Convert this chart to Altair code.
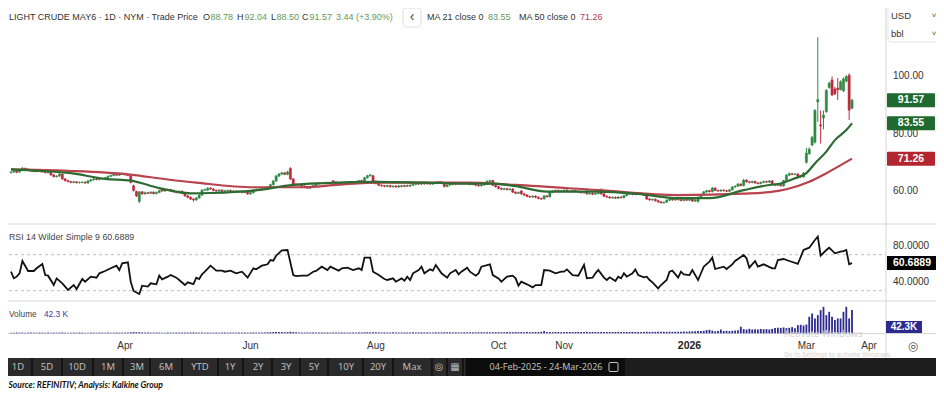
import altair as alt
import pandas as pd

# ---------------- data ----------------
START, END = "2025-02-04", "2026-03-24"
DATES = pd.bdate_range(START, END)

OPEN = [
 66.4, 66.6, 66.9, 66.6, 67.2, 67.9, 67.6, 67.3, 67.0, 66.8,
 67.1, 67.0, 66.7, 66.4, 66.5, 65.6, 65.0, 65.2, 65.9, 64.2,
 63.6, 63.3, 63.0, 63.2, 62.9, 63.0, 63.1, 62.8, 63.5, 63.9,
 64.2, 64.0, 64.4, 64.3, 64.6, 65.1, 65.4, 65.8, 65.5, 65.9,
 66.1, 65.7, 65.2, 61.8, 59.8, 56.4, 59.7, 59.0, 59.4, 59.2,
 59.6, 59.1, 59.5, 60.6, 60.0, 60.3, 60.5, 60.2, 59.8, 59.5,
 59.9, 59.2, 58.3, 57.8, 57.2, 56.9, 57.6, 58.6, 60.3, 60.3,
 61.0, 60.7, 60.2, 60.0, 60.3, 59.9, 60.1, 60.2, 59.8, 60.0,
 59.7, 59.9, 59.5, 59.8, 59.0, 59.4, 60.4, 60.6, 60.5, 60.8,
 60.6, 61.3, 62.2, 63.5, 65.2, 65.9, 66.3, 65.8, 67.8, 64.2,
 62.4, 62.0, 62.3, 61.7, 61.3, 61.0, 61.4, 61.9, 62.5, 62.7,
 62.6, 62.9, 62.7, 63.5, 63.1, 62.6, 62.8, 62.5, 62.7, 62.9,
 62.6, 62.8, 63.2, 63.6, 63.4, 64.6, 65.3, 65.3, 63.4, 62.6,
 62.0, 61.8, 61.6, 61.9, 61.5, 61.7, 61.4, 61.8, 61.6, 61.9,
 61.7, 62.0, 62.3, 62.6, 62.4, 62.8, 62.5, 62.7, 62.4, 62.6,
 63.0, 63.2, 62.8, 61.6, 62.1, 62.5, 62.3, 62.6, 62.4, 62.7,
 62.5, 62.6, 62.3, 62.4, 62.0, 61.8, 62.1, 62.4, 63.4, 63.6,
 62.0, 61.5, 60.9, 60.6, 60.8, 60.5, 60.7, 59.6, 59.2, 60.0,
 59.0, 58.6, 58.1, 57.9, 58.2, 57.8, 57.4, 57.3, 58.3, 58.0,
 59.6, 60.0, 60.2, 59.9, 60.1, 60.3, 60.0, 59.8, 60.2, 59.9,
 59.6, 59.4, 60.0, 59.0, 59.2, 58.9, 59.1, 60.4, 59.0, 58.2,
 57.9, 57.6, 57.8, 57.5, 57.9, 57.7, 58.4, 58.9, 59.1, 58.8,
 59.0, 59.2, 58.9, 58.5, 57.2, 56.9, 57.1, 56.6, 56.2, 55.9,
 56.1, 56.8, 57.2, 56.9, 57.3, 57.0, 56.7, 57.1, 56.8, 57.2,
 56.5, 56.4, 57.8, 58.6, 59.7, 60.1, 59.8, 61.0, 60.2, 60.0,
 60.3, 60.1, 59.9, 60.4, 61.4, 61.7, 62.4, 61.9, 63.8, 63.2,
 63.0, 63.3, 62.8, 62.6, 63.0, 63.3, 63.1, 63.5, 62.3, 62.0,
 62.2, 61.8, 63.6, 65.5, 66.0, 65.8, 65.9, 65.2, 64.9, 70.0,
 73.0, 76.0, 77.0, 91.0, 83.0, 85.4, 87.6, 96.0, 98.6, 95.5,
 95.8, 95.3, 94.8, 98.2, 100.2, 88.78,
]
HIGH = [
 66.9, 67.2, 67.1, 67.5, 68.3, 68.1, 67.9, 67.5, 67.3, 67.4,
 67.4, 67.3, 66.9, 66.8, 66.7, 65.9, 65.5, 66.2, 66.1, 64.5,
 63.9, 63.5, 63.5, 63.4, 63.3, 63.4, 63.3, 63.8, 64.2, 64.5,
 64.5, 64.7, 64.6, 64.9, 65.4, 65.7, 66.1, 66.0, 66.2, 66.4,
 66.3, 66.0, 65.5, 62.2, 60.1, 60.0, 60.0, 59.8, 59.7, 59.9,
 59.9, 59.8, 60.4, 60.9, 60.6, 60.8, 60.8, 60.5, 60.1, 60.2,
 60.2, 59.5, 58.6, 58.1, 57.5, 57.9, 58.9, 60.6, 60.8, 61.3,
 61.3, 61.0, 60.5, 60.6, 60.6, 60.4, 60.5, 60.5, 60.3, 60.3,
 60.2, 60.2, 60.1, 60.1, 59.7, 60.7, 60.9, 60.9, 61.1, 61.1,
 61.6, 62.5, 63.8, 65.6, 66.3, 66.7, 66.6, 67.0, 68.3, 64.5,
 62.7, 62.6, 62.6, 62.0, 61.6, 61.7, 62.2, 62.8, 63.0, 63.0,
 63.2, 63.2, 63.1, 63.8, 63.4, 63.1, 63.1, 63.0, 63.2, 63.2,
 63.1, 63.5, 63.9, 63.9, 64.9, 65.6, 65.9, 65.6, 63.7, 62.9,
 62.3, 62.1, 62.2, 62.2, 62.0, 62.0, 62.1, 62.1, 62.2, 62.2,
 62.3, 62.6, 62.9, 62.9, 63.1, 63.1, 63.0, 63.0, 62.9, 63.3,
 63.5, 63.5, 63.1, 62.4, 62.8, 62.8, 62.9, 62.9, 63.0, 63.0,
 62.9, 62.9, 62.7, 62.7, 62.3, 62.4, 62.7, 63.7, 63.9, 63.9,
 62.3, 61.8, 61.2, 61.1, 61.1, 61.0, 61.0, 59.9, 59.8, 60.3,
 59.3, 58.9, 58.4, 58.5, 58.5, 58.1, 57.7, 58.6, 58.6, 59.9,
 60.3, 60.5, 60.5, 60.4, 60.6, 60.6, 60.3, 60.5, 60.5, 60.2,
 59.9, 60.0, 60.3, 59.5, 59.5, 59.4, 59.7, 60.9, 59.3, 58.5,
 58.2, 58.1, 58.1, 58.2, 58.2, 58.7, 59.2, 59.4, 59.4, 59.3,
 59.5, 59.5, 59.2, 58.8, 57.5, 57.4, 57.4, 56.9, 56.5, 56.4,
 57.1, 57.5, 57.5, 57.6, 57.6, 57.3, 57.4, 57.4, 57.5, 57.5,
 57.2, 58.1, 58.9, 60.0, 60.4, 60.4, 61.4, 61.3, 60.5, 60.6,
 60.6, 60.4, 60.7, 61.7, 62.0, 62.8, 62.7, 64.2, 64.1, 63.5,
 63.6, 63.6, 63.1, 63.3, 63.6, 63.6, 63.8, 63.8, 62.6, 62.5,
 62.5, 63.9, 65.9, 66.4, 66.3, 66.2, 66.2, 65.5, 66.6, 75.0,
 75.2, 79.2, 88.5, 113.5, 88.0, 88.0, 95.4, 98.0, 99.8, 96.2,
 99.3, 98.5, 99.5, 100.3, 101.0, 92.04,
]
LOW = [
 66.1, 66.3, 66.2, 66.3, 66.9, 67.3, 67.0, 66.7, 66.5, 66.5,
 66.7, 66.4, 66.1, 66.1, 65.3, 64.7, 64.7, 64.9, 63.9, 63.3,
 63.0, 62.7, 62.7, 62.6, 62.6, 62.7, 62.5, 62.5, 63.2, 63.6,
 63.7, 63.7, 64.0, 64.0, 64.3, 64.8, 65.1, 65.2, 65.2, 65.6,
 65.4, 65.1, 62.6, 59.8, 57.9, 55.8, 58.7, 58.7, 58.9, 58.9,
 58.8, 58.8, 59.2, 59.7, 59.7, 60.0, 59.9, 59.5, 59.2, 59.2,
 58.9, 58.0, 57.5, 56.9, 56.3, 56.6, 57.3, 58.3, 60.0, 60.0,
 60.4, 59.9, 59.7, 59.7, 59.6, 59.6, 59.8, 59.5, 59.5, 59.4,
 59.4, 59.2, 59.2, 58.7, 58.7, 59.1, 60.1, 60.2, 60.2, 60.3,
 60.3, 61.0, 61.9, 63.2, 64.9, 65.6, 65.5, 65.5, 63.8, 62.0,
 61.7, 61.7, 61.4, 61.0, 60.7, 60.7, 61.1, 61.6, 62.2, 62.3,
 62.3, 62.4, 62.4, 62.8, 62.3, 62.3, 62.2, 62.2, 62.4, 62.3,
 62.3, 62.5, 62.9, 63.1, 63.1, 64.3, 65.0, 63.0, 62.3, 61.7,
 61.5, 61.3, 61.3, 61.2, 61.2, 61.1, 61.1, 61.3, 61.3, 61.4,
 61.4, 61.7, 62.0, 62.1, 62.1, 62.2, 62.2, 62.1, 62.1, 62.3,
 62.7, 62.6, 61.2, 61.3, 61.8, 62.0, 62.0, 62.1, 62.1, 62.2,
 62.2, 62.0, 62.0, 61.7, 61.5, 61.5, 61.8, 62.1, 63.1, 61.7,
 61.2, 60.6, 60.3, 60.3, 60.2, 60.2, 59.3, 58.9, 58.9, 58.7,
 58.3, 57.8, 57.6, 57.6, 57.5, 57.1, 56.9, 57.0, 57.7, 57.7,
 59.3, 59.7, 59.6, 59.6, 59.8, 59.7, 59.5, 59.5, 59.6, 59.3,
 59.1, 59.1, 58.7, 58.7, 58.6, 58.6, 58.8, 58.7, 57.9, 57.6,
 57.3, 57.3, 57.2, 57.2, 57.4, 57.4, 58.1, 58.6, 58.5, 58.5,
 58.7, 58.6, 58.2, 56.9, 56.6, 56.6, 56.3, 55.9, 55.6, 55.6,
 55.8, 56.5, 56.6, 56.6, 56.7, 56.4, 56.4, 56.5, 56.5, 56.2,
 56.2, 56.0, 57.5, 58.3, 59.4, 59.5, 59.5, 59.9, 59.7, 59.7,
 59.8, 59.6, 59.6, 60.1, 61.1, 61.4, 61.6, 61.6, 62.9, 62.7,
 62.7, 62.5, 62.3, 62.3, 62.7, 62.8, 62.8, 62.0, 61.7, 61.7,
 61.5, 61.5, 63.3, 65.2, 65.5, 65.5, 64.9, 64.6, 64.6, 69.5,
 72.6, 75.6, 76.5, 84.0, 76.5, 81.5, 87.2, 95.6, 93.0, 93.4,
 91.7, 95.0, 94.4, 97.8, 84.7, 88.50,
]
CLOSE = [
 66.6, 66.9, 66.5, 67.2, 67.9, 67.6, 67.3, 67.0, 66.8, 67.1,
 67.0, 66.7, 66.4, 66.5, 65.6, 65.0, 65.2, 65.9, 64.2, 63.6,
 63.3, 63.0, 63.2, 62.9, 63.0, 63.1, 62.8, 63.5, 63.9, 64.2,
 64.0, 64.4, 64.3, 64.6, 65.1, 65.4, 65.8, 65.5, 65.9, 66.1,
 65.7, 65.4, 63.0, 60.2, 58.3, 59.7, 59.0, 59.4, 59.2, 59.6,
 59.1, 59.5, 60.1, 60.0, 60.3, 60.5, 60.2, 59.8, 59.5, 59.9,
 59.2, 58.3, 57.8, 57.2, 56.9, 57.6, 58.6, 60.3, 60.5, 61.0,
 60.7, 60.2, 60.0, 60.3, 59.9, 60.1, 60.2, 59.8, 60.0, 59.7,
 59.9, 59.5, 59.8, 59.0, 59.4, 60.4, 60.6, 60.5, 60.8, 60.6,
 61.3, 62.2, 63.5, 65.2, 65.9, 66.3, 65.8, 66.6, 64.2, 62.4,
 62.0, 62.3, 61.7, 61.3, 61.0, 61.4, 61.9, 62.5, 62.7, 62.6,
 62.9, 62.7, 62.8, 63.1, 62.6, 62.8, 62.5, 62.7, 62.9, 62.6,
 62.8, 63.2, 63.6, 63.4, 64.6, 65.3, 65.6, 63.4, 62.6, 62.0,
 61.8, 61.6, 61.9, 61.5, 61.7, 61.4, 61.8, 61.6, 61.9, 61.7,
 62.0, 62.3, 62.6, 62.4, 62.8, 62.5, 62.7, 62.4, 62.6, 63.0,
 63.2, 62.9, 61.6, 62.1, 62.5, 62.3, 62.6, 62.4, 62.7, 62.5,
 62.6, 62.3, 62.4, 62.0, 61.8, 62.1, 62.4, 63.4, 63.6, 62.0,
 61.5, 60.9, 60.6, 60.8, 60.5, 60.7, 59.6, 59.2, 59.5, 59.0,
 58.6, 58.1, 57.9, 58.2, 57.8, 57.4, 57.2, 58.3, 58.0, 59.6,
 60.0, 60.2, 59.9, 60.1, 60.3, 60.0, 59.8, 60.2, 59.9, 59.6,
 59.4, 59.7, 59.0, 59.2, 58.9, 59.1, 59.4, 59.0, 58.2, 57.9,
 57.6, 57.8, 57.5, 57.9, 57.7, 58.4, 58.9, 59.1, 58.8, 59.0,
 59.2, 58.9, 58.5, 57.2, 56.9, 57.1, 56.6, 56.2, 55.9, 56.1,
 56.8, 57.2, 56.9, 57.3, 57.0, 56.7, 57.1, 56.8, 57.2, 56.5,
 56.9, 57.8, 58.6, 59.7, 60.1, 59.8, 61.0, 60.2, 60.0, 60.3,
 60.1, 59.9, 60.4, 61.4, 61.7, 62.4, 61.9, 63.8, 63.2, 63.0,
 63.3, 62.8, 62.6, 63.0, 63.3, 63.1, 63.5, 62.3, 62.0, 62.2,
 61.8, 63.6, 65.5, 66.0, 65.8, 65.9, 65.2, 64.9, 66.2, 73.2,
 74.5, 78.6, 88.0, 91.8, 82.6, 86.4, 95.0, 97.5, 93.4, 93.8,
 95.2, 98.0, 99.0, 99.8, 88.13, 91.57,
]
VOLUME_K = [
 1.2, 1.0, 1.4, 1.1, 1.3, 0.9, 1.2, 1.5, 1.1, 1.0,
 1.3, 1.2, 0.9, 1.4, 1.1, 1.2, 1.0, 1.3, 1.5, 1.1,
 1.2, 1.0, 1.3, 1.1, 1.4, 1.2, 0.9, 1.1, 1.3, 1.2,
 1.0, 1.4, 1.2, 1.1, 1.3, 1.0, 1.2, 1.4, 1.1, 1.3,
 1.5, 1.4, 1.8, 2.2, 2.0, 1.9, 1.6, 1.4, 1.5, 1.3,
 1.2, 1.4, 1.3, 1.1, 1.2, 1.5, 1.3, 1.2, 1.4, 1.3,
 1.5, 1.6, 1.4, 1.5, 1.7, 1.4, 1.3, 1.5, 1.2, 1.4,
 1.3, 1.2, 1.4, 1.1, 1.3, 1.5, 1.2, 1.4, 1.3, 1.2,
 1.4, 1.3, 1.5, 1.2, 1.4, 1.6, 1.3, 1.5, 1.4, 1.6,
 1.8, 2.0, 2.3, 2.6, 2.4, 2.2, 2.0, 2.1, 2.8, 2.2,
 1.8, 1.6, 1.5, 1.4, 1.6, 1.5, 1.7, 1.4, 1.5, 1.6,
 1.4, 1.5, 1.3, 1.6, 1.5, 1.4, 1.6, 1.5, 1.3, 1.4,
 1.5, 1.6, 1.7, 1.5, 1.8, 1.9, 1.7, 2.0, 1.8, 1.6,
 1.5, 1.6, 1.4, 1.5, 1.7, 1.6, 1.5, 1.4, 1.6, 1.5,
 1.6, 1.7, 1.5, 1.6, 1.8, 1.6, 1.7, 1.5, 1.6, 1.8,
 1.7, 1.6, 1.9, 1.8, 1.7, 1.6, 1.8, 1.7, 1.6, 1.8,
 1.7, 1.9, 1.8, 1.7, 1.9, 2.0, 1.8, 2.1, 2.0, 1.9,
 2.0, 2.1, 1.9, 2.0, 2.2, 2.0, 2.1, 2.3, 2.1, 2.2,
 2.0, 2.3, 2.1, 2.2, 2.4, 2.2, 2.6, 4.2, 2.5, 2.3,
 2.2, 2.4, 2.3, 2.1, 2.5, 2.3, 2.4, 2.2, 2.3, 2.5,
 2.4, 2.2, 2.6, 2.3, 2.5, 2.4, 2.2, 2.6, 2.4, 2.3,
 2.5, 2.3, 2.4, 2.6, 2.2, 2.5, 2.4, 2.3, 2.6, 2.4,
 2.5, 2.3, 2.6, 2.8, 2.5, 2.7, 2.6, 2.9, 2.7, 2.8,
 2.6, 2.9, 2.7, 2.8, 3.0, 2.8, 3.2, 3.0, 3.4, 3.6,
 3.8, 4.2, 4.0, 4.5, 5.8, 6.4, 4.8, 3.6, 4.0, 6.8,
 4.2, 4.5, 4.0, 4.6, 5.0, 5.4, 12.0, 7.5, 6.8, 8.2,
 7.0, 7.4, 6.8, 7.8, 7.2, 7.6, 7.0, 8.0, 9.5, 10.2,
 9.8, 10.6, 9.4, 10.0, 11.2, 9.0, 14.8, 15.5, 14.2, 16.0,
 30.0, 36.0, 27.0, 33.0, 42.0, 48.0, 33.0, 39.0, 30.0, 24.0,
 27.0, 27.0, 39.0, 48.0, 27.0, 42.3,
]
# (trading-day index, value) readings
MA21 = [(0, 67.5), (10, 67.0), (21, 66.2), (33, 64.2), (42, 63.6), (52, 61.0), (63, 59.2),
        (70, 59.3), (85, 60.1), (99, 62.1), (109, 62.7), (129, 63.2), (145, 62.9), (160, 62.6),
        (169, 62.6), (177, 61.7), (188, 59.8), (206, 59.8), (220, 59.0), (234, 57.5), (245, 57.5),
        (257, 60.3), (266, 62.1), (270, 62.6), (275, 64.4), (279, 66.2), (282, 69.6), (286, 73.7),
        (289, 77.7), (293, 81.2), (295, 83.55)]
MA50 = [(0, 67.5), (20, 67.0), (41, 65.8), (55, 64.0), (65, 62.9), (85, 61.3), (102, 61.3),
        (115, 62.2), (129, 62.9), (160, 62.9), (177, 62.1), (206, 60.3), (234, 58.6), (257, 59.1),
        (266, 59.6), (272, 60.6), (280, 63.2), (286, 66.2), (295, 71.26)]
RSI = [(0, 51.1), (1, 43.8), (2, 45.6), (3, 49.3), (4, 63.0), (6, 51.9), (8, 51.9), (9, 54.9),
       (11, 59.7), (12, 47.4), (13, 46.7), (15, 36.3), (16, 43.7), (18, 38.2), (19, 34.5), (20, 30.8),
       (22, 36.3), (23, 31.9), (25, 43.0), (26, 40.0), (28, 45.6), (30, 44.5), (31, 49.3), (33, 51.9),
       (35, 54.9), (37, 57.8), (38, 53.0), (39, 60.4), (41, 61.5), (42, 40.0), (43, 29.7), (45, 26.3),
       (46, 35.6), (48, 34.5), (49, 38.2), (51, 37.1), (52, 46.7), (53, 42.6), (55, 45.6), (56, 47.4),
       (58, 44.5), (59, 41.9), (61, 36.3), (62, 39.3), (64, 37.4), (65, 44.5), (66, 43.0), (67, 48.2),
       (68, 51.1), (70, 57.8), (72, 52.3), (74, 52.3), (75, 51.1), (77, 52.3), (79, 49.3), (81, 51.1),
       (83, 44.5), (85, 54.9), (86, 53.7), (88, 57.8), (90, 59.3), (91, 64.1), (92, 63.4), (93, 68.9),
       (95, 74.9), (97, 75.2), (99, 47.4), (100, 46.3), (102, 46.7), (104, 46.7), (106, 51.1),
       (107, 51.9), (109, 56.7), (111, 53.0), (112, 56.7), (114, 53.7), (115, 52.3), (116, 54.9),
       (118, 55.6), (120, 53.0), (122, 54.9), (123, 53.0), (124, 66.7), (126, 66.7), (127, 51.1),
       (129, 47.4), (131, 43.0), (132, 41.9), (134, 43.7), (135, 40.0), (137, 43.7), (138, 41.1),
       (139, 45.6), (140, 41.9), (141, 49.3), (143, 53.0), (144, 56.7), (145, 49.3), (147, 53.7),
       (148, 52.3), (149, 58.6), (151, 49.3), (153, 44.5), (154, 49.3), (156, 53.0), (157, 48.2),
       (158, 51.1), (160, 55.6), (161, 51.1), (163, 46.7), (164, 49.3), (165, 56.7), (168, 59.3),
       (169, 47.4), (171, 43.7), (172, 40.0), (174, 45.6), (176, 46.7), (177, 43.7), (178, 35.6),
       (179, 40.0), (181, 37.1), (183, 33.7), (184, 36.3), (186, 36.3), (187, 53.0), (189, 52.3),
       (191, 49.3), (193, 51.1), (194, 51.1), (195, 53.7), (197, 47.4), (199, 46.7), (201, 58.6),
       (202, 43.7), (204, 44.5), (205, 49.3), (206, 53.0), (208, 44.5), (209, 41.9), (210, 44.9),
       (212, 40.8), (213, 45.6), (214, 43.7), (215, 49.3), (216, 45.6), (218, 49.3), (219, 53.7),
       (220, 47.4), (222, 44.9), (223, 45.6), (224, 41.9), (225, 39.3), (227, 32.6), (228, 36.3),
       (230, 41.9), (231, 51.1), (232, 52.3), (234, 44.5), (235, 51.1), (236, 48.2), (238, 47.4),
       (239, 53.0), (241, 41.9), (243, 56.7), (245, 62.3), (246, 66.7), (247, 54.1), (250, 56.7),
       (251, 54.1), (253, 59.3), (254, 63.0), (257, 69.7), (258, 66.0), (259, 55.6), (261, 63.0),
       (262, 56.7), (264, 59.3), (265, 57.8), (267, 54.9), (268, 54.9), (269, 64.1), (271, 65.2),
       (273, 63.0), (276, 59.7), (278, 75.2), (280, 77.8), (282, 86.3), (283, 90.0), (284, 68.9),
       (286, 75.2), (287, 77.8), (289, 71.5), (291, 73.4), (292, 74.1), (293, 75.2), (294, 59.3),
       (295, 60.69)]
TICK_DATES = ["2025-04-01", "2025-06-02", "2025-08-01", "2025-10-01", "2025-11-03",
              "2026-01-02", "2026-03-02", "2026-04-01"]
TICK_LABELS = ["Apr", "Jun", "Aug", "Oct", "Nov", "2026", "Mar", "Apr"]
PRICE_TICKS = [100, 80, 60]
RSI_TICKS = [80, 40]
RSI_BANDS = [70, 30]
PRICE_TAGS = [("91.57", 91.57, "g"), ("83.55", 83.55, "g"), ("71.26", 71.26, "r")]
RSI_LAST = 60.6889
VOL_LAST = "42.3K"
TOOLBAR = ["1D", "5D", "10D", "1M", "3M", "6M", "YTD", "1Y", "2Y", "3Y", "5Y", "10Y", "20Y", "Max"]

# ---------------- styling ----------------
FONT = "Liberation Sans"
UIFONT = "Open Sans"
UP, DOWN = "#2f8a43", "#bb2a3c"
MA21_C, MA50_C = "#2c6b31", "#b8424d"
TAG_G, TAG_R = "#1f6a2e", "#b4262f"
VOL_C = "#2d2a8e"
GRID = "#d6d6d6"

n = len(DATES)
assert len(OPEN) == n and len(HIGH) == n and len(LOW) == n and len(CLOSE) == n and len(VOLUME_K) == n

candles = pd.DataFrame({"day": range(n), "date": DATES.strftime("%Y-%m-%d"),
                        "open": OPEN, "high": HIGH, "low": LOW, "close": CLOSE, "vol": VOLUME_K})
candles["dir"] = ["up" if c >= o else "down" for o, c in zip(OPEN, CLOSE)]
ma21 = pd.DataFrame(MA21, columns=["day", "v"])
ma50 = pd.DataFrame(MA50, columns=["day", "v"])
rsi = pd.DataFrame(RSI, columns=["day", "v"])
ticks = pd.DataFrame({"day": [len(pd.bdate_range(START, d)) - 1 for d in TICK_DATES],
                      "t": TICK_LABELS})
ticks["bold"] = ticks["t"].str.match(r"^\d{4}$")


# pixel offsets: screen coordinate -> chart coordinate (page margin 8px)
def px(v):
    return v - 8


X = alt.Scale(domain=[0, 295], range=[px(6), px(857)], nice=False, zero=False)
Y_PRICE = alt.Scale(domain=[40, 120], range=[px(248.5), px(18.5)], nice=False, zero=False)
Y_RSI = alt.Scale(domain=[0, 100], range=[px(317.7), px(227.7)], nice=False, zero=False)
Y_VOL = alt.Scale(domain=[0, 50], range=[px(333.3), px(305.75)], nice=False)
DIRC = alt.Scale(domain=["up", "down"], range=[UP, DOWN])

xq = alt.X("day:Q", scale=X, axis=None)
ONE = pd.DataFrame({"k": [0]})


def txt(s, x, y, size=9, color="#333333", weight="normal", align="left", font=FONT, style="normal"):
    return alt.Chart(ONE).mark_text(text=s, align=align, baseline="middle", fontSize=size, color=color,
                                    fontWeight=weight, font=font, fontStyle=style).encode(
        x=alt.value(px(x)), y=alt.value(px(y)))


def box(x1, y1, x2, y2, fill, stroke=None, sw=1, r=0):
    kw = dict(fill=fill, cornerRadius=r)
    if stroke:
        kw.update(stroke=stroke, strokeWidth=sw)
    return alt.Chart(ONE).mark_rect(**kw).encode(
        x=alt.value(px(x1)), x2=alt.value(px(x2)), y=alt.value(px(y1)), y2=alt.value(px(y2)))


def line(x1, y1, x2, y2, color=GRID, w=1):
    return alt.Chart(ONE).mark_rule(color=color, strokeWidth=w).encode(
        x=alt.value(px(x1)), x2=alt.value(px(x2)), y=alt.value(px(y1)), y2=alt.value(px(y2)))


layers = []

# ---- panel chrome ----
layers += [
    line(886, 0, 886, 358),
    line(0, 224, 944, 224),
    line(0, 301, 944, 301),
    line(0, 333.5, 944, 333.5),
    box(888, 4, 941, 42, "#ffffff", stroke="#e4e4e4", r=3),
    box(403, 8, 421, 27, "#ffffff", stroke="#dddddd", r=3),
]

# ---- price panel ----
base = alt.Chart(candles)
layers.append(base.mark_rule(strokeWidth=1).encode(
    x=xq, y=alt.Y("low:Q", scale=Y_PRICE, axis=None), y2="high:Q",
    color=alt.Color("dir:N", scale=DIRC, legend=None)))
layers.append(base.mark_bar(size=2.2, strokeWidth=0.5).encode(
    x=xq, y=alt.Y("open:Q", scale=Y_PRICE, axis=None), y2="close:Q",
    color=alt.Color("dir:N", scale=DIRC, legend=None),
    stroke=alt.Stroke("dir:N", scale=DIRC, legend=None)))
layers.append(alt.Chart(ma50).mark_line(color=MA50_C, strokeWidth=2.2, interpolate="monotone").encode(
    x=xq, y=alt.Y("v:Q", scale=Y_PRICE, axis=None)))
layers.append(alt.Chart(ma21).mark_line(color=MA21_C, strokeWidth=2.2, interpolate="monotone").encode(
    x=xq, y=alt.Y("v:Q", scale=Y_PRICE, axis=None)))

layers.append(alt.Chart(pd.DataFrame({"v": PRICE_TICKS})).mark_text(
    align="left", baseline="middle", fontSize=10, font=FONT, color="#333333").encode(
    x=alt.value(px(893)), y=alt.Y("v:Q", scale=Y_PRICE, axis=None), text=alt.Text("v:Q", format=".2f")))

tags = pd.DataFrame(PRICE_TAGS, columns=["t", "v", "c"])
layers.append(alt.Chart(tags).mark_rect(yOffset=-7, y2Offset=7, cornerRadius=1).encode(
    x=alt.value(px(887)), x2=alt.value(px(935)),
    y=alt.Y("v:Q", scale=Y_PRICE, axis=None), y2="v:Q",
    color=alt.Color("c:N", scale=alt.Scale(domain=["g", "r"], range=[TAG_G, TAG_R]), legend=None)))
layers.append(alt.Chart(tags).mark_text(align="center", baseline="middle", fontSize=10.5, font=FONT,
                                        color="white", fontWeight="bold").encode(
    x=alt.value(px(911)), y=alt.Y("v:Q", scale=Y_PRICE, axis=None), text="t:N"))

# ---- header ----
GV = "#5e9b5e"
layers += [
    txt("LIGHT CRUDE MAY6 · 1D · NYM · Trade Price", 9, 17),
    txt("O", 203, 17), txt("88.78", 210.5, 17, color=GV),
    txt("H", 237, 17), txt("92.04", 244.5, 17, color=GV),
    txt("L", 271, 17), txt("88.50", 276.5, 17, color=GV),
    txt("C", 302, 17), txt("91.57", 309.5, 17, color=GV),
    txt("3.44 (+3.90%)", 336, 17, color=GV),
    txt("‹", 412, 16.5, size=14, align="center", color="#444444"),
    txt("MA 21 close 0", 427, 17), txt("83.55", 488, 17, color=GV),
    txt("MA 50 close 0", 519, 17), txt("71.26", 580, 17, color="#b5394a"),
    txt("USD", 891, 16, size=9.5), txt("˅", 934, 16, size=8, align="center", color="#555555"),
    txt("bbl", 891, 34, size=9.5), txt("˅", 934, 34, size=8, align="center", color="#555555"),
]

# ---- RSI panel ----
rsi_band_df = pd.DataFrame({"v": RSI_BANDS})
layers.append(alt.Chart(rsi_band_df).mark_rule(color="#bdbdbd", strokeWidth=1, strokeDash=[3, 3]).encode(
    x=alt.value(px(3)), x2=alt.value(px(886)), y=alt.Y("v:Q", scale=Y_RSI, axis=None)))
layers.append(alt.Chart(rsi).mark_line(color="#111111", strokeWidth=1.8).encode(
    x=xq, y=alt.Y("v:Q", scale=Y_RSI, axis=None)))
layers.append(alt.Chart(pd.DataFrame({"v": RSI_TICKS})).mark_text(
    align="left", baseline="middle", fontSize=10, font=FONT, color="#333333").encode(
    x=alt.value(px(893)), y=alt.Y("v:Q", scale=Y_RSI, axis=None), text=alt.Text("v:Q", format=".4f")))
rlast = pd.DataFrame({"v": [RSI_LAST]})
layers.append(alt.Chart(rlast).mark_rect(yOffset=-7, y2Offset=7, color="#000000").encode(
    x=alt.value(px(887)), x2=alt.value(px(937)), y=alt.Y("v:Q", scale=Y_RSI, axis=None), y2="v:Q"))
layers.append(alt.Chart(rlast).mark_text(align="center", baseline="middle", fontSize=10.5, font=FONT,
                                         color="white", fontWeight="bold").encode(
    x=alt.value(px(912)), y=alt.Y("v:Q", scale=Y_RSI, axis=None), text=alt.Text("v:Q", format=".4f")))
layers.append(txt(f"RSI 14 Wilder Simple 9  {RSI_LAST:.4f}", 9, 237, size=8.8, color="#444444"))

# ---- volume panel ----
layers.append(base.mark_bar(size=1.8, color=VOL_C).encode(
    x=xq, y=alt.Y("vol:Q", scale=Y_VOL, axis=None)))
layers += [
    txt("Volume", 9, 315, size=8.3, color="#444444"),
    txt("42.3 K", 44, 315, size=8.3, color="#3b3aa0"),
    box(886, 321, 922, 333, VOL_C),
    txt(VOL_LAST, 904, 327, size=10, color="white", weight="bold", align="center"),
]

# ---- time axis ----
layers.append(alt.Chart(ticks).transform_filter("!datum.bold").mark_text(
    align="center", baseline="middle", fontSize=10, font=FONT, color="#333333").encode(
    x=xq, y=alt.value(px(346)), text="t:N"))
layers.append(alt.Chart(ticks).transform_filter("datum.bold").mark_text(
    align="center", baseline="middle", fontSize=10.5, font=FONT, color="#222222", fontWeight="bold").encode(
    x=xq, y=alt.value(px(346)), text="t:N"))
layers += [
    txt("Activate Windows", 784, 333.5, size=9.5, color="#d2d2d2", font="Noto Sans"),
    txt("Go to Settings to activate Windows.", 784, 354.5, size=6.5, color="#d2d2d2", font="Noto Sans"),
    txt("◎", 913, 346, size=12, align="center", color="#555555", font="DejaVu Sans"),
]

# ---- toolbar ----
layers += [
    box(0, 358, 944, 376, "#1d1d1d"),
    box(0, 358, 465, 376, "#2a2a2a"),
    box(466, 358, 625, 376, "#0c0c0c"),
]
seps = [32, 62, 93, 123, 150, 182, 218, 243, 272, 300, 328, 363, 393, 432, 447, 463]
for sxp in seps:
    layers.append(line(sxp, 358, sxp, 376, color="#0e0e0e", w=1.5))
centers = [18, 47, 77, 108, 137, 166, 200, 230, 258, 286, 314, 346, 378, 412]
for lab, cx in zip(TOOLBAR, centers):
    layers.append(txt(lab, cx, 367, size=9.5, color="#c4c4c4", align="center", font=UIFONT))
layers += [
    txt("◎", 439, 367, size=10, align="center", color="#bdbdbd", font="DejaVu Sans"),
    txt("▦", 455, 367, size=10, align="center", color="#bdbdbd", font="DejaVu Sans"),
    txt("04-Feb-2025  -  24-Mar-2026", 546, 367, size=9, color="#c8c8c8", align="center", font=UIFONT),
    box(609, 362.5, 618, 371.5, "#0c0c0c", stroke="#c8c8c8", sw=1, r=1),
]

# ---- footer ----
layers.append(txt("Source: REFINITIV; Analysis: Kalkine Group", 8.5, 385, size=8.5, color="#111111",
                  weight="bold", style="italic", font="Lato"))

chart = alt.layer(*layers).resolve_scale(y="independent", color="independent", stroke="independent").properties(
    width=928, height=382, autosize=alt.AutoSizeParams(type="none"), padding=0,
    background="white").configure_view(stroke=None)

chart.save("out.html", embed_options={"renderer": "svg", "actions": False})
